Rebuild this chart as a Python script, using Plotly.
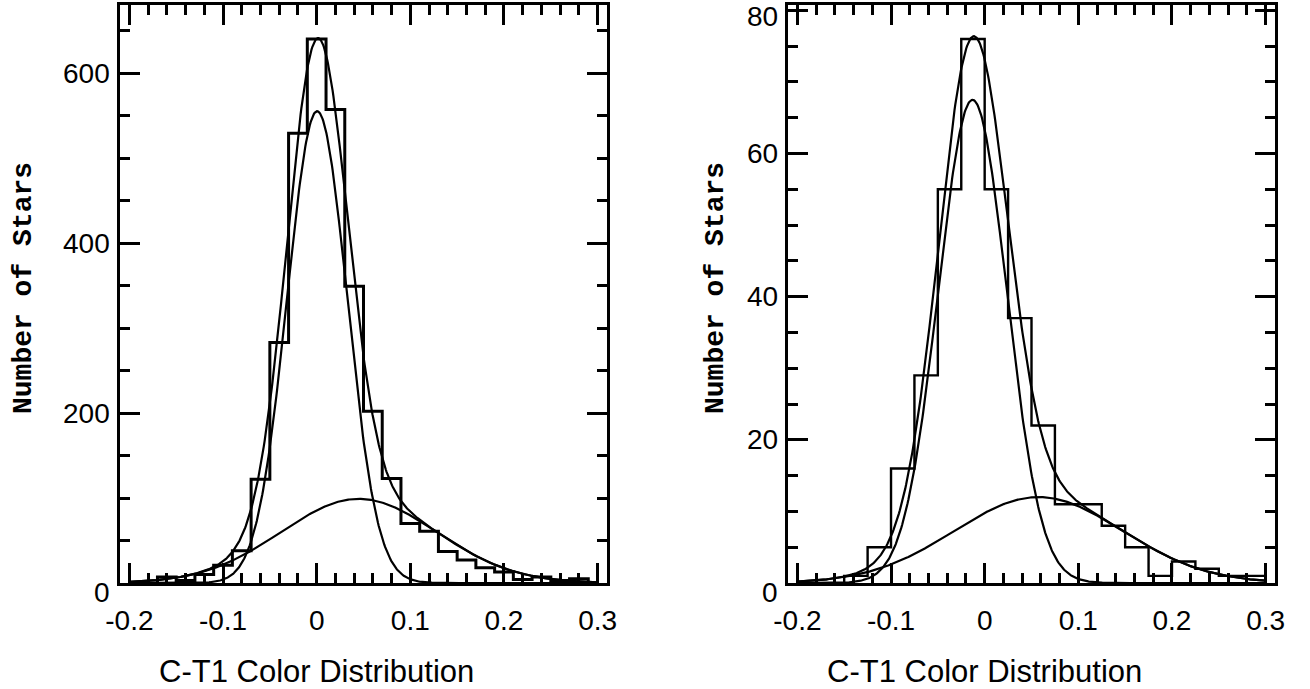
import numpy as np
import plotly.graph_objects as go

# ---------------- data ----------------
# Left panel histogram (bin width 0.02, centres)
left_bin_centers = [-0.16, -0.14, -0.12, -0.10, -0.08, -0.06, -0.04, -0.02, 0.00,
                    0.02, 0.04, 0.06, 0.08, 0.10, 0.12, 0.14, 0.16, 0.18, 0.20,
                    0.22, 0.24, 0.26, 0.28]
left_counts = [7, 3, 10, 21, 38, 122, 283, 529, 640,
               557, 349, 202, 123, 70, 61, 37, 27, 18, 13,
               4, 7, 3, 5]
left_bin_width = 0.02

# Right panel histogram (bin width 0.025, centres)
right_bin_centers = [-0.1375, -0.1125, -0.0875, -0.0625, -0.0375, -0.0125, 0.0125,
                     0.0375, 0.0625, 0.0875, 0.1125, 0.1375, 0.1625, 0.1875,
                     0.2125, 0.2375, 0.2625, 0.2875]
right_counts = [1, 5, 16, 29, 55, 76, 55,
                37, 22, 11, 11, 8, 5, 1,
                3, 2, 1, 1]
right_bin_width = 0.025

# Gaussian fit components: [amplitude, mean, sigma]
left_narrow = [555, 0.0005, 0.032]
left_broad = [99, 0.045, 0.083]
right_narrow = [67.5, -0.013, 0.0365]
right_broad = [12, 0.0575, 0.09]

x_tick_vals = [-0.2, -0.1, 0.0, 0.1, 0.2, 0.3]
x_tick_text = ["-0.2", "-0.1", "0", "0.1", "0.2", "0.3"]
left_y_ticks = [0, 200, 400, 600]
right_y_ticks = [0, 20, 40, 60, 80]

x_title = "C-T1 Color Distribution"
y_title = "Number of Stars"


# ---------------- helpers ----------------
def step_outline(centers, counts, width):
    edges = [c - width / 2 for c in centers]
    xs = [edges[0]] + edges + [centers[-1] + width / 2]
    ys = [0] + list(counts) + [0]
    return xs, ys


def gauss(x, p):
    a, m, s = p
    return a * np.exp(-((x - m) ** 2) / (2 * s * s))


xg = np.linspace(-0.2, 0.3, 600)

fig = go.Figure()

panels = [
    (left_bin_centers, left_counts, left_bin_width, left_narrow, left_broad, "x", "y", 3.0),
    (right_bin_centers, right_counts, right_bin_width, right_narrow, right_broad, "x2", "y2", 2.4),
]
for centers, counts, w, pn, pb, xa, ya, hw in panels:
    hx, hy = step_outline(centers, counts, w)
    fig.add_trace(go.Scatter(x=hx, y=hy, mode="lines", line=dict(color="black", width=hw, shape="hv"),
                             xaxis=xa, yaxis=ya, showlegend=False, hoverinfo="skip"))
    n = gauss(xg, pn)
    b = gauss(xg, pb)
    for yy in (n, b, n + b):
        fig.add_trace(go.Scatter(x=xg, y=yy, mode="lines", line=dict(color="black", width=2.2),
                                 xaxis=xa, yaxis=ya, showlegend=False, hoverinfo="skip"))

W, H = 1310, 689


def px_x(page_x):
    return page_x / W


def px_y(page_y):
    return 1 - page_y / H


tick_font = dict(family="Liberation Sans, Arial, sans-serif", size=28, color="black")


def xaxis_cfg(x0, x1):
    return dict(domain=[px_x(x0), px_x(x1)], range=[-0.21, 0.31], tickmode="array",
                tickvals=x_tick_vals, ticktext=x_tick_text, ticks="inside", ticklen=20,
                tickwidth=3, tickcolor="black", showline=True, linewidth=3, linecolor="black",
                mirror="allticks", showgrid=False, zeroline=False, tickfont=tick_font,
                ticklabelstandoff=10, automargin=False, ticklabeloverflow="allow",
                minor=dict(dtick=0.02, tick0=0, ticks="inside", ticklen=10, tickwidth=3,
                           tickcolor="black", showgrid=False))


def yaxis_cfg(rng, ticks, minor):
    return dict(domain=[px_y(583), px_y(5)], range=rng, tickmode="array",
                tickvals=ticks, ticks="inside", ticklen=20, showticklabels=False,
                tickwidth=3, tickcolor="black", showline=True, linewidth=3, linecolor="black",
                mirror="allticks", showgrid=False, zeroline=False, automargin=False,
                minor=dict(dtick=minor, tick0=0, ticks="inside", ticklen=10, tickwidth=3,
                           tickcolor="black", showgrid=False))


fig.update_layout(
    width=W, height=H, margin=dict(l=0, r=0, t=0, b=0, pad=0, autoexpand=False),
    paper_bgcolor="white", plot_bgcolor="white",
    xaxis=dict(xaxis_cfg(120, 607), anchor="y"),
    yaxis=dict(yaxis_cfg([0, 680], left_y_ticks, 50), anchor="x"),
    xaxis2=dict(xaxis_cfg(788, 1275), anchor="y2"),
    yaxis2=dict(yaxis_cfg([0, 80.75], right_y_ticks, 5), anchor="x2"),
)

# y tick labels as annotations (end labels nudged like in the reference)
for ticks, ya, xpos, top in ((left_y_ticks, "y", 120, 680), (right_y_ticks, "y2", 788, 80.75)):
    for t in ticks:
        shift = 0
        if t == 0:
            shift = -9
        elif t == ticks[-1] and top - t < 2:
            shift = -6
        fig.add_annotation(x=px_x(xpos), xref="paper", y=t, yref=ya, text=str(t), showarrow=False,
                           font=tick_font, xanchor="right", yanchor="middle", xshift=-8,
                           yshift=shift)

title_font = dict(family="Liberation Sans, Arial, sans-serif", size=31, color="black")
ytitle_font = dict(family="Liberation Mono, Courier New, monospace", size=28, color="black")
for xr, px in (("x", 23), ("x2", 715)):
    fig.add_annotation(x=0, xref=xr, y=px_y(671), yref="paper", text=x_title,
                       showarrow=False, font=title_font, xanchor="center", yanchor="middle")
    fig.add_annotation(x=px_x(px), xref="paper", y=px_y(288), yref="paper",
                       text="<b>" + y_title + "</b>", textangle=-90, showarrow=False,
                       font=ytitle_font, xanchor="center", yanchor="middle")

# remove the default 8px page margin so the figure sits at the window's top-left corner
fig.write_html("out.html", config={"displayModeBar": False},
               post_script="document.body.style.margin='0px';")
